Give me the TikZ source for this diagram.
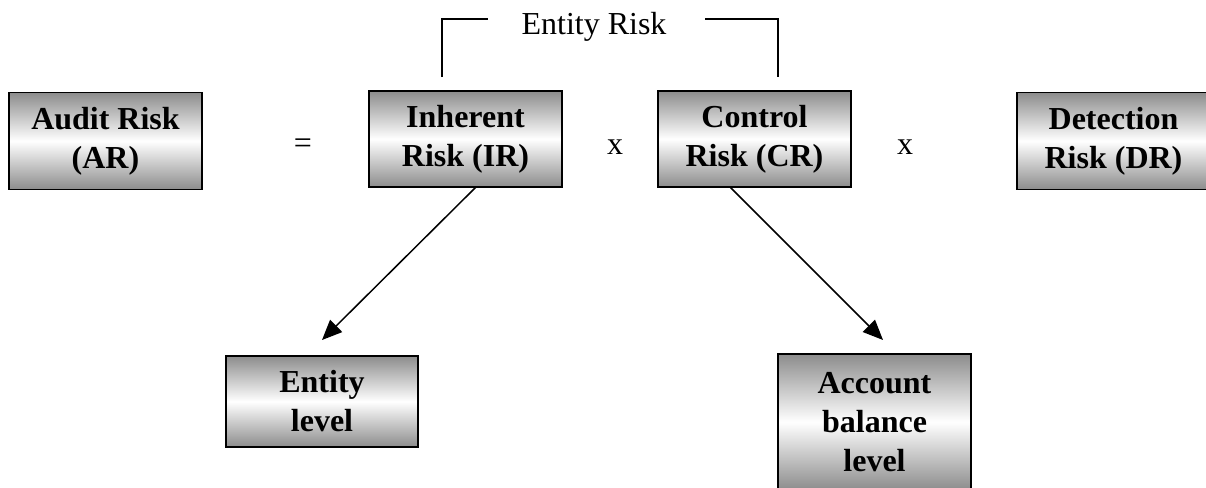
\documentclass[tikz,border=0pt]{standalone}
\usepackage{fontspec}
\setmainfont{Liberation Serif}
\usetikzlibrary{arrows.meta}
\begin{document}
\begin{tikzpicture}[x=1pt,y=-1pt,
  box/.style={draw=black, line width=1.8pt, top color=gray!90, bottom color=gray!90, middle color=white,
    align=center, inner sep=0pt, font=\fontsize{32}{39}\selectfont\bfseries},
  op/.style={inner sep=0pt, font=\fontsize{32}{38}\selectfont},
  arr/.style={line width=1.5pt, -{Triangle[length=20pt,width=17pt]}},
  brk/.style={line width=1.4pt}]
\useasboundingbox (0,0) rectangle (1206,487);
\node[box, minimum width=193pt, minimum height=97pt] (AR) at (105.5,141) {Audit Risk\\(AR)};
\node[box, minimum width=193pt, minimum height=96pt] (IR) at (465.5,139) {Inherent\\Risk (IR)};
\node[box, minimum width=193pt, minimum height=96pt] (CR) at (754.5,139) {Control\\Risk (CR)};
\node[box, minimum width=193pt, minimum height=97pt] (DR) at (1113.5,141) {Detection\\Risk (DR)};
\node[box, minimum width=192pt, minimum height=91pt] (EL) at (322,401.5) {Entity\\level};
\node[box, minimum width=193pt, minimum height=136pt] (AB) at (874.5,422) {Account\\balance\\level};
\node[op] (eq) at (303,146) {=};
\node[op, anchor=base] (x1) at (615,154) {x};
\node[op, anchor=base] (x2) at (905,154) {x};
\node[op, anchor=base] (ER) at (594,35) {Entity Risk};
\coordinate (bl1) at (442,77);
\coordinate (bl2) at (442,19);
\coordinate (bl3) at (488,19);
\coordinate (br1) at (705,19);
\coordinate (br2) at (778,19);
\coordinate (br3) at (778,77);
\draw[brk] (bl1) -- (bl2) -- (bl3);
\draw[brk] (br1) -- (br2) -- (br3);
\coordinate (a1) at (476,187);
\coordinate (t1) at (322,340);
\coordinate (a2) at (730,187);
\coordinate (t2) at (883,340);
\draw[arr] (a1) -- (t1);
\draw[arr] (a2) -- (t2);
\end{tikzpicture}
\end{document}
